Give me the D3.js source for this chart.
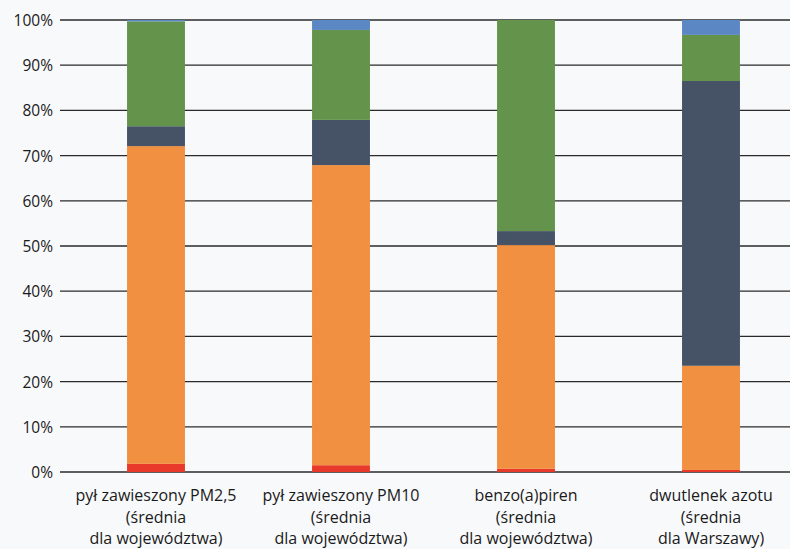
<!DOCTYPE html>
<html><head><meta charset="utf-8">
<script src="https://cdn.jsdelivr.net/npm/d3@7"></script>
<style>body{margin:0;background:#f8f9fb;} svg{display:block;}</style>
</head><body>
<svg id="c" width="790" height="549"></svg>
<script>
const categories = [
  ["pył zawieszony PM2,5", "(średnia", "dla województwa)"],
  ["pył zawieszony PM10", "(średnia", "dla województwa)"],
  ["benzo(a)piren", "(średnia", "dla województwa)"],
  ["dwutlenek azotu", "(średnia", "dla Warszawy)"]
];
const seriesNames = ["s1", "s2", "s3", "s4", "s5"];
const s1 = [1.8, 1.5, 0.7, 0.45];
const s2 = [70.3, 66.4, 49.5, 23.05];
const s3 = [4.4, 10.0, 3.1, 63.0];
const s4 = [23.2, 19.9, 46.7, 10.2];
const s5 = [0.3, 2.2, 0.0, 3.3];
const colors = ["#e8392a", "#f19041", "#465266", "#64944b", "#5b87c5"];
const yTicks = [0,10,20,30,40,50,60,70,80,90,100];

const svg = d3.select("#c");
const x = d3.scaleBand().domain(d3.range(categories.length)).range([63.5, 803.5]).paddingInner(0.687).paddingOuter(0.3435);
const y = d3.scaleLinear().domain([0, 100]).range([472, 20]);

const rows = categories.map((c, i) => ({i, s1: s1[i], s2: s2[i], s3: s3[i], s4: s4[i], s5: s5[i]}));
const stack = d3.stack().keys(seriesNames)(rows);

// gridlines
svg.append("g").selectAll("line").data(yTicks).join("line")
  .attr("x1", 60).attr("x2", 790)
  .attr("y1", d => y(d)).attr("y2", d => y(d))
  .attr("stroke", "#2a2a2a").attr("stroke-width", 1.3);

const yAxis = d3.axisLeft(y).tickValues(yTicks).tickFormat(d => d + "%").tickSize(0).tickPadding(0);
const ga = svg.append("g").attr("transform", "translate(53,0)").call(yAxis);
ga.select(".domain").remove();
ga.selectAll("text").attr("font-family", "'Open Sans', sans-serif").attr("font-size", 15.5).attr("fill", "#1a1a1a").attr("dy", "0.35em");

svg.append("g").selectAll("g").data(stack).join("g")
  .attr("fill", (d, k) => colors[k])
  .selectAll("rect").data(d => d).join("rect")
  .attr("x", d => x(d.data.i)).attr("width", x.bandwidth())
  .attr("y", d => y(d[1])).attr("height", d => Math.max(0, y(d[0]) - y(d[1])));

// x labels
const lab = svg.append("g");
categories.forEach((lines, i) => {
  const t = lab.append("text").attr("text-anchor", "middle")
    .attr("font-family", "'Open Sans', sans-serif").attr("font-size", 16).attr("fill", "#1a1a1a");
  lines.forEach((l, j) => {
    t.append("tspan").attr("x", x(i) + x.bandwidth() / 2).attr("y", 501 + j * 21.5).text(l);
  });
});
</script>
</body></html>
